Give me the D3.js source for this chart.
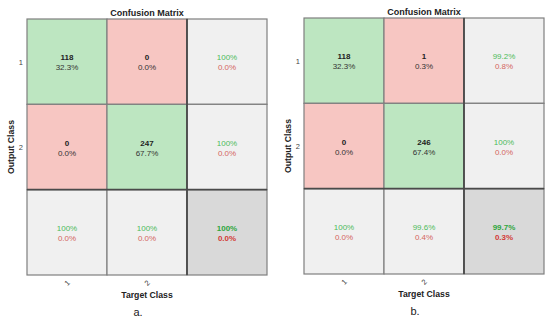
<!DOCTYPE html>
<html>
<head>
<meta charset="utf-8">
<script src="https://cdn.jsdelivr.net/npm/d3@7"></script>
<style>
  body { margin: 0; background: #fff; }
  svg text { font-family: "Liberation Sans", Arial, sans-serif; }
</style>
</head>
<body>
<div id="vis"></div>
<script>
var classes = ['1', '2'];

// panel a
var countsA = [[118, 0], [0, 247]];
var pctA = [['32.3%', '0.0%'], ['0.0%', '67.7%']];
var rowSumA = [['100%', '0.0%'], ['100%', '0.0%']];
var colSumA = [['100%', '0.0%'], ['100%', '0.0%']];
var totalA = ['100%', '0.0%'];

// panel b
var countsB = [[118, 1], [0, 246]];
var pctB = [['32.3%', '0.3%'], ['0.0%', '67.4%']];
var rowSumB = [['99.2%', '0.8%'], ['100%', '0.0%']];
var colSumB = [['100%', '0.0%'], ['99.6%', '0.4%']];
var totalB = ['99.7%', '0.3%'];

var width = 550, height = 323;

var svg = d3.select('#vis').append('svg')
  .attr('width', width)
  .attr('height', height);

var green = '#bde6c1', red = '#f7c6c2', grey = '#f0f0f0', darkGrey = '#d9d9d9';
var greenText = '#4cbb5a', redText = '#d4665d';

function drawMatrix(opt) {
  var g = svg.append('g');
  var keys = classes.concat(['all']);

  var x = d3.scaleBand().domain(keys).range([opt.x0, opt.x1]);
  var y = d3.scaleBand().domain(keys).range([opt.y0, opt.y1]);

  var cells = [];
  keys.forEach(function (r, i) {
    keys.forEach(function (c, j) {
      var d = { row: r, col: c, i: i, j: j };
      if (i < 2 && j < 2) {
        d.fill = i === j ? green : red;
        d.top = String(opt.counts[i][j]);
        d.bottom = opt.pct[i][j];
        d.kind = 'main';
      } else if (i < 2) {
        d.fill = grey; d.top = opt.rowSum[i][0]; d.bottom = opt.rowSum[i][1]; d.kind = 'sum';
      } else if (j < 2) {
        d.fill = grey; d.top = opt.colSum[j][0]; d.bottom = opt.colSum[j][1]; d.kind = 'sum';
      } else {
        d.fill = darkGrey; d.top = opt.total[0]; d.bottom = opt.total[1]; d.kind = 'total';
      }
      cells.push(d);
    });
  });

  g.selectAll('rect.cell').data(cells).enter().append('rect')
    .attr('class', 'cell')
    .attr('x', function (d) { return x(d.col); })
    .attr('y', function (d) { return y(d.row); })
    .attr('width', x.bandwidth())
    .attr('height', y.bandwidth())
    .attr('fill', function (d) { return d.fill; })
    .attr('stroke', '#7f7f7f')
    .attr('stroke-width', 1.2);

  // darker separators around summary row / column
  g.append('line')
    .attr('x1', x('all')).attr('x2', x('all'))
    .attr('y1', opt.y0).attr('y2', opt.y1)
    .attr('stroke', '#4a4a4a').attr('stroke-width', 1.8);
  g.append('line')
    .attr('x1', opt.x0).attr('x2', opt.x1)
    .attr('y1', y('all')).attr('y2', y('all'))
    .attr('stroke', '#4a4a4a').attr('stroke-width', 1.8);

  var labels = g.selectAll('g.lbl').data(cells).enter().append('g')
    .attr('class', 'lbl')
    .attr('transform', function (d) {
      return 'translate(' + (x(d.col) + x.bandwidth() / 2) + ',' + (y(d.row) + y.bandwidth() / 2) + ')';
    });

  labels.append('text')
    .attr('text-anchor', 'middle')
    .attr('y', -1.5)
    .attr('font-size', 8)
    .attr('font-weight', function (d) { return d.kind === 'sum' ? 'normal' : 'bold'; })
    .attr('fill', function (d) {
      if (d.kind === 'main') return '#222';
      return d.kind === 'total' ? '#2ea63c' : greenText;
    })
    .text(function (d) { return d.top; });

  labels.append('text')
    .attr('text-anchor', 'middle')
    .attr('y', 8.5)
    .attr('font-size', 8)
    .attr('font-weight', function (d) { return d.kind === 'total' ? 'bold' : 'normal'; })
    .attr('fill', function (d) {
      if (d.kind === 'main') return '#333';
      return d.kind === 'total' ? '#d33a35' : redText;
    })
    .text(function (d) { return d.bottom; });

  var cx = (opt.x0 + opt.x1) / 2;

  g.append('text')
    .attr('x', cx).attr('y', opt.y0 - 3)
    .attr('text-anchor', 'middle')
    .attr('font-size', 9).attr('font-weight', 'bold')
    .attr('fill', '#222')
    .text('Confusion Matrix');

  // row tick labels
  g.selectAll('text.ytick').data(classes).enter().append('text')
    .attr('class', 'ytick')
    .attr('x', opt.x0 - 4)
    .attr('y', function (d) { return y(d) + y.bandwidth() / 2 + 3; })
    .attr('text-anchor', 'end')
    .attr('font-size', 7.5)
    .attr('fill', '#444')
    .text(function (d) { return d; });

  // column tick labels, rotated
  g.selectAll('text.xtick').data(classes).enter().append('text')
    .attr('class', 'xtick')
    .attr('transform', function (d) {
      return 'translate(' + (x(d) + x.bandwidth() / 2) + ',' + (opt.y1 + 8) + ') rotate(-45)';
    })
    .attr('text-anchor', 'middle')
    .attr('dy', '0.35em')
    .attr('font-size', 7.5)
    .attr('fill', '#444')
    .text(function (d) { return d; });

  g.append('text')
    .attr('x', cx).attr('y', opt.y1 + 23)
    .attr('text-anchor', 'middle')
    .attr('font-size', 8.7).attr('font-weight', 'bold')
    .attr('fill', '#222')
    .text('Target Class');

  g.append('text')
    .attr('transform', 'translate(' + (opt.x0 - 13) + ',' + ((opt.y0 + opt.y1) / 2) + ') rotate(-90)')
    .attr('text-anchor', 'middle')
    .attr('font-size', 8.7).attr('font-weight', 'bold')
    .attr('fill', '#222')
    .text('Output Class');

  g.append('text')
    .attr('x', cx - 9).attr('y', opt.y1 + 41)
    .attr('text-anchor', 'middle')
    .attr('font-size', 11)
    .attr('font-family', '"Liberation Serif", "Times New Roman", serif')
    .attr('fill', '#222')
    .text(opt.caption);
}

drawMatrix({ x0: 27, x1: 267, y0: 19, y1: 275, counts: countsA, pct: pctA,
  rowSum: rowSumA, colSum: colSumA, total: totalA, caption: 'a.' });
drawMatrix({ x0: 304, x1: 544, y0: 18, y1: 274, counts: countsB, pct: pctB,
  rowSum: rowSumB, colSum: colSumB, total: totalB, caption: 'b.' });
</script>
</body>
</html>
